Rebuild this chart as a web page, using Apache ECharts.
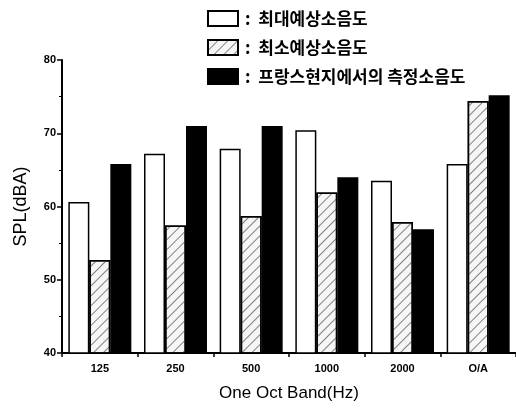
<!DOCTYPE html>
<html><head><meta charset="utf-8">
<script src="https://cdn.jsdelivr.net/npm/echarts@6/dist/echarts.min.js"></script>
<style>html,body{margin:0;padding:0;background:#fff}#c{width:516px;height:410px}</style>
</head><body><div id="c"></div>
<script>
const categories = ['125', '250', '500', '1000', '2000', 'O/A'];
const seriesNames = ['최대예상소음도', '최소예상소음도', '프랑스현지에서의 측정소음도'];
const maxPredicted = [60.6, 67.2, 67.9, 70.4, 63.5, 65.8];
const minPredicted = [52.7, 57.4, 58.7, 61.9, 57.9, 74.4];
const measured = [65.8, 71.0, 71.0, 64.0, 56.9, 75.2];
const yTicks = [40, 50, 60, 70, 80];

const chart = echarts.init(document.getElementById('c'), null, {renderer: 'canvas'});
const hatch = {
  symbol: 'rect', symbolSize: 1, color: 'rgba(90,90,90,0.75)',
  dashArrayX: [1, 0], dashArrayY: [1, 6], rotation: -Math.PI / 4
};
const bold = {fontFamily: 'Liberation Sans', fontWeight: 'bold', color: '#000'};
chart.setOption({
  animation: false,
  backgroundColor: '#fff',
  legend: {
    orient: 'vertical', left: 202, top: 5, itemWidth: 30, itemHeight: 15, itemGap: 12,
    icon: 'rect',
    formatter: n => ':  ' + n,
    textStyle: {fontFamily: 'Noto Sans CJK KR', fontWeight: 'bold', fontSize: 17, color: '#000', padding: [0, 0, 0, 2]},
    data: seriesNames
  },
  grid: {left: 62, top: 60, right: 0, bottom: 57},
  xAxis: {
    type: 'category', data: categories,
    name: 'One Oct Band(Hz)', nameLocation: 'middle', nameGap: 32,
    nameTextStyle: {fontFamily: 'Liberation Sans', fontSize: 17, color: '#000'},
    axisLine: {lineStyle: {color: '#000', width: 2}},
    axisTick: {show: true, length: 4, lineStyle: {color: '#000', width: 1.5}},
    axisLabel: Object.assign({fontSize: 11, margin: 10}, bold)
  },
  yAxis: {
    type: 'value', min: yTicks[0], max: yTicks[yTicks.length - 1], interval: 10,
    name: 'SPL(dBA)', nameLocation: 'middle', nameGap: 32, nameRotate: 90,
    nameTextStyle: {fontFamily: 'Liberation Sans', fontSize: 18, color: '#000'},
    axisLine: {show: true, lineStyle: {color: '#000', width: 2}},
    axisTick: {show: true, length: 5, lineStyle: {color: '#000', width: 1.5}},
    minorTick: {show: true, splitNumber: 2, length: 3, lineStyle: {color: '#000'}},
    splitLine: {show: false},
    axisLabel: Object.assign({fontSize: 11, margin: 6}, bold)
  },
  series: [
    {name: seriesNames[0], type: 'bar', data: maxPredicted, barWidth: 21, barGap: '0%',
     itemStyle: {color: '#fff', borderColor: '#000', borderWidth: 1.5}},
    {name: seriesNames[1], type: 'bar', data: minPredicted, barWidth: 21, barGap: '0%',
     itemStyle: {color: '#f6f6f6', borderColor: '#000', borderWidth: 1.5, decal: hatch}},
    {name: seriesNames[2], type: 'bar', data: measured, barWidth: 21, barGap: '0%',
     itemStyle: {color: '#000', borderColor: '#000', borderWidth: 1.5}}
  ]
});
</script></body></html>
